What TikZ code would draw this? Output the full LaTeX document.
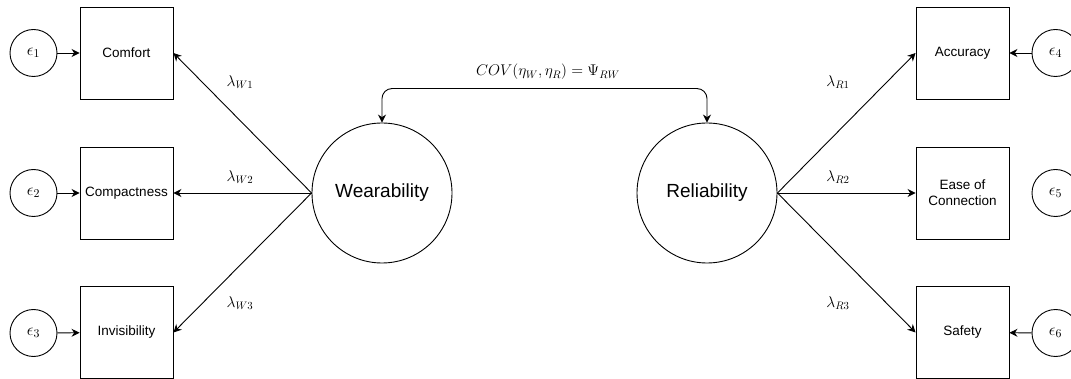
\RequirePackage{fix-cm}
\documentclass[tikz,border=0pt]{standalone}
\usepackage{fontspec}
\setmainfont{Liberation Sans}
\usetikzlibrary{arrows.meta}
\begin{document}
\begin{tikzpicture}[x=1pt,y=-1pt,
  obs/.style={draw, line width=0.9pt, minimum width=93pt, minimum height=92pt, inner sep=0pt, align=center, font=\fontsize{13.5}{16}\selectfont},
  err/.style={circle, draw, line width=0.9pt, minimum size=47pt, inner sep=0pt, font=\fontsize{17}{19}\selectfont},
  lat/.style={circle, draw, line width=0.9pt, minimum size=140pt, inner sep=0pt, font=\fontsize{19}{23}\selectfont},
  tip/.tip={Stealth[length=8pt,width=8pt]},
  arr/.style={-tip, line width=0.9pt},
  lab/.style={font=\fontsize{15.5}{18}\selectfont, inner sep=1pt}]
\useasboundingbox (0,0) rectangle (1071,379);
% observed
\node[obs] (comfort) at (126.5,53) {Comfort};
\node[obs] (compact) at (126.5,193) {Compactness};
\node[obs] (invis) at (126.5,332.5) {Invisibility};
\node[obs] (accur) at (962.5,53) {Accuracy};
\node[obs] (ease) at (962.5,193) {Ease of\\Connection};
\node[obs] (safety) at (962.5,332.5) {Safety};
% errors
\node[err] (e1) at (33.5,53) {$\epsilon_1$};
\node[err] (e2) at (33.5,193) {$\epsilon_2$};
\node[err] (e3) at (33.5,333) {$\epsilon_3$};
\node[err] (e4) at (1055.5,53) {$\epsilon_4$};
\node[err] (e5) at (1055.5,193) {$\epsilon_5$};
\node[err] (e6) at (1055.5,333) {$\epsilon_6$};
% latent
\node[lat] (W) at (382,193) {Wearability};
\node[lat] (R) at (707,193) {Reliability};
% error arrows
\draw[arr] (e1) -- (comfort);
\draw[arr] (e2) -- (compact);
\draw[arr] (e3) -- (invis);
\draw[arr] (e4) -- (accur);
\draw[arr] (e6) -- (safety);
% loadings
\draw[arr] (W.west) -- (comfort.east);
\draw[arr] (W.west) -- (compact.east);
\draw[arr] (W.west) -- (invis.east);
\draw[arr] (R.east) -- (accur.west);
\draw[arr] (R.east) -- (ease.west);
\draw[arr] (R.east) -- (safety.west);
% covariance
\draw[tip-tip, line width=0.9pt, rounded corners=10pt]
  (W.north) -- ++(0,-34) -| (R.north);
% labels
\node[lab] (cov) at (548,72) {$COV(\eta_W,\eta_R)=\Psi_{RW}$};
\node[lab] (lw1) at (240,82) {$\lambda_{W1}$};
\node[lab] (lw2) at (240,177) {$\lambda_{W2}$};
\node[lab] (lw3) at (240,303) {$\lambda_{W3}$};
\node[lab] (lr1) at (838,82) {$\lambda_{R1}$};
\node[lab] (lr2) at (838,177) {$\lambda_{R2}$};
\node[lab] (lr3) at (838,303) {$\lambda_{R3}$};
\end{tikzpicture}
\end{document}
